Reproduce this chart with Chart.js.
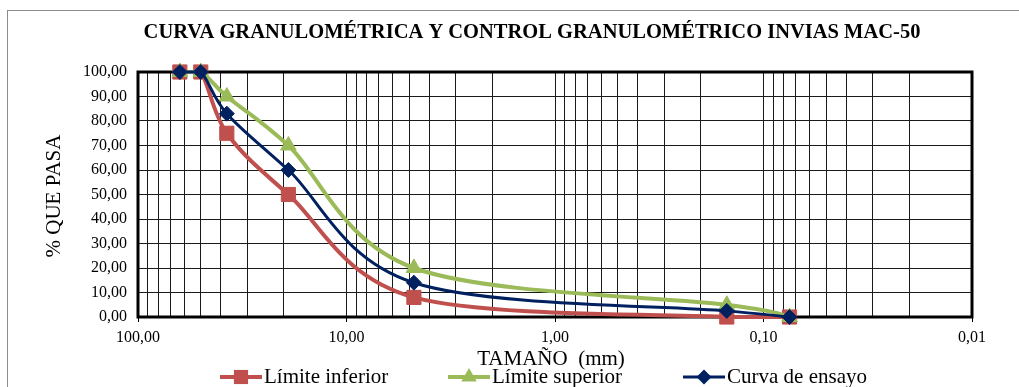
<!DOCTYPE html>
<html>
<head>
<meta charset="utf-8">
<script src="https://cdn.jsdelivr.net/npm/chart.js@4.4.1/dist/chart.umd.min.js"></script>
<style>
  html, body { margin: 0; padding: 0; background: #fff; }
  #wrap { width: 1019px; height: 387px; }
</style>
</head>
<body>
<div id="wrap"><canvas id="chart" width="1019" height="387"></canvas></div>
<script>
// tamaño de tamiz (mm)
const sizes = [63, 50, 37.5, 19, 4.75, 0.15, 0.075];
// % que pasa
const limInferior = [100, 100, 75, 50, 8, 0, 0];
const limSuperior = [100, 100, 90, 70, 20, 5, 0];
const curvaEnsayo = [100, 100, 83, 60, 14, 2.5, 0];
// etiquetas de los ejes
const xLabels = [100, 10, 1, 0.1, 0.01];
const yLabels = [0, 10, 20, 30, 40, 50, 60, 70, 80, 90, 100];

const serif = "'Liberation Serif', 'Times New Roman', serif";
const fmt = v => v.toFixed(2).replace('.', ',');
const isMajor = v => xLabels.some(m => Math.abs(m - v) / m < 1e-6);

function pts(vals) {
  return sizes.map((s, i) => ({ x: s, y: vals[i] }));
}

const series = [
  { label: 'Límite inferior', data: limInferior, color: '#C0504D', style: 'rect', radius: 10, width: 4, order: 3 },
  { label: 'Límite superior', data: limSuperior, color: '#9BBB59', style: 'triangle', radius: 9, width: 4, order: 2 },
  { label: 'Curva de ensayo', data: curvaEnsayo, color: '#002060', style: 'rectRot', radius: 7.5, width: 3, order: 1 }
];

function marker(ctx, style, x, y, r, color) {
  ctx.save();
  ctx.fillStyle = color;
  ctx.beginPath();
  if (style === 'rect') {
    const h = r * Math.SQRT1_2;
    ctx.rect(x - h, y - h, 2 * h, 2 * h);
  } else if (style === 'triangle') {
    for (let k = 0; k < 3; k++) {
      const a = k * 2 * Math.PI / 3;
      const px = x + Math.sin(a) * r, py = y - Math.cos(a) * r;
      k ? ctx.lineTo(px, py) : ctx.moveTo(px, py);
    }
    ctx.closePath();
  } else {
    ctx.moveTo(x, y - r); ctx.lineTo(x + r, y); ctx.lineTo(x, y + r); ctx.lineTo(x - r, y);
    ctx.closePath();
  }
  ctx.fill();
  ctx.restore();
}

// suavizado tipo Excel (Catmull-Rom, 1/6 de la diferencia entre vecinos)
const smooth = {
  id: 'smooth',
  beforeDatasetsDraw(chart) {
    const a = chart.chartArea;
    const cap = y => Math.min(a.bottom, Math.max(a.top, y));
    chart.data.datasets.forEach((ds, di) => {
      const meta = chart.getDatasetMeta(di);
      const p = meta.data;
      for (let i = 0; i < p.length; i++) {
        const prev = p[i - 1] || p[i], next = p[i + 1] || p[i];
        const dx = (next.x - prev.x) / 6, dy = (next.y - prev.y) / 6;
        p[i].cp1x = p[i].x - dx; p[i].cp1y = cap(p[i].y - dy);
        p[i].cp2x = p[i].x + dx; p[i].cp2y = cap(p[i].y + dy);
      }
      meta.dataset._pointsUpdated = true;
    });
  }
};

const decor = {
  id: 'decor',
  beforeDraw(chart) {
    const ctx = chart.ctx;
    ctx.save();
    ctx.strokeStyle = '#8c8c8c';
    ctx.lineWidth = 1;
    ctx.strokeRect(7.5, 10.5, 1100, 500);
    ctx.restore();
  },
  beforeDatasetsDraw(chart) {
    const a = chart.chartArea, ctx = chart.ctx;
    ctx.save();
    ctx.strokeStyle = '#000';
    ctx.lineWidth = 3;
    ctx.strokeRect(a.left, a.top, a.right - a.left, a.bottom - a.top);
    ctx.restore();
  },
  afterDraw(chart) {
    const ctx = chart.ctx;
    ctx.save();
    ctx.fillStyle = '#000';
    ctx.textAlign = 'center';
    ctx.textBaseline = 'middle';
    ctx.font = 'bold 20.5px ' + serif;
    ctx.fillText('CURVA GRANULOMÉTRICA Y CONTROL GRANULOMÉTRICO INVIAS MAC-50', 532, 33);
    ctx.font = '21px ' + serif;
    ctx.fillText('TAMAÑO  (mm)', 551, 359);
    ctx.save();
    ctx.translate(54, 196);
    ctx.rotate(-Math.PI / 2);
    ctx.fillText('% QUE PASA', 0, 0);
    ctx.restore();

    // leyenda
    const xs = [220, 448, 683], ly = 377;
    ctx.textAlign = 'left';
    series.forEach((s, i) => {
      ctx.strokeStyle = s.color;
      ctx.lineWidth = s.width;
      ctx.beginPath();
      ctx.moveTo(xs[i], ly);
      ctx.lineTo(xs[i] + 42, ly);
      ctx.stroke();
      marker(ctx, s.style, xs[i] + 21, ly, s.radius, s.color);
      ctx.fillStyle = '#000';
      ctx.fillText(s.label, xs[i] + 44, ly);
    });
    ctx.restore();
  }
};

new Chart(document.getElementById('chart'), {
  type: 'line',
  data: {
    datasets: series.map(s => ({
      label: s.label,
      data: pts(s.data),
      borderColor: s.color,
      backgroundColor: s.color,
      borderWidth: s.width,
      pointStyle: s.style,
      pointRadius: s.radius,
      pointBackgroundColor: s.color,
      pointBorderColor: s.color,
      pointBorderWidth: 1,
      tension: 0.4,
      fill: false,
      clip: false,
      order: s.order
    }))
  },
  options: {
    responsive: false,
    animation: false,
    layout: { padding: { top: 72, right: 47, left: 0, bottom: 0 } },
    plugins: { legend: { display: false }, tooltip: { enabled: false }, title: { display: false } },
    scales: {
      x: {
        type: 'logarithmic',
        reverse: true,
        min: 0.01,
        max: 100,
        afterBuildTicks(scale) {
          const t = [];
          [0.01, 0.1, 1, 10].forEach(d => {
            for (let k = 1; k < 10; k++) t.push({ value: +(k * d).toPrecision(10) });
          });
          t.push({ value: 100 });
          scale.ticks = t;
        },
        afterFit(scale) { scale.height = 70; },
        ticks: {
          autoSkip: false,
          maxRotation: 0,
          padding: 6,
          color: '#000',
          font: { family: serif, size: 16 },
          callback: v => isMajor(v) ? fmt(v) : ''
        },
        grid: {
          color: '#1a1a1a',
          lineWidth: 1,
          drawTicks: true,
          tickLength: 5,
          tickColor: c => (c.tick && isMajor(c.tick.value)) ? '#000' : 'rgba(0,0,0,0)'
        },
        border: { display: false }
      },
      y: {
        min: 0,
        max: 100,
        afterBuildTicks(scale) { scale.ticks = yLabels.map(v => ({ value: v })); },
        afterFit(scale) { scale.width = 138; },
        ticks: {
          padding: 11,
          color: '#000',
          font: { family: serif, size: 16 },
          callback: v => fmt(v)
        },
        grid: { color: '#1a1a1a', lineWidth: 1, drawTicks: false },
        border: { display: false }
      }
    }
  },
  plugins: [smooth, decor]
});
</script>
</body>
</html>
